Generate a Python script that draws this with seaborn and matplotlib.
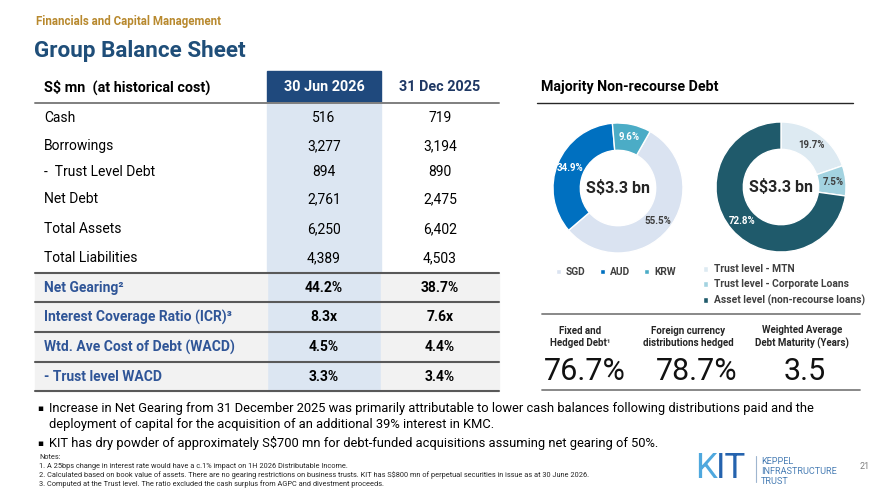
import matplotlib
matplotlib.use("Agg")
import matplotlib.pyplot as plt
from matplotlib.patches import Rectangle
import seaborn as sns

# ---------------- data ----------------
section_label = "Financials and Capital Management"
title = "Group Balance Sheet"
table_header = ["S$ mn  (at historical cost)", "30 Jun 2026", "31 Dec 2025"]
row_labels = ["Cash", "Borrowings", "-  Trust Level Debt", "Net Debt", "Total Assets", "Total Liabilities"]
vals_2026 = ["516", "3,277", "894", "2,761", "6,250", "4,389"]
vals_2025 = ["719", "3,194", "890", "2,475", "6,402", "4,503"]
ratio_labels = ["Net Gearing\u00b2", "Interest Coverage Ratio (ICR)\u00b3",
                "Wtd. Ave Cost of Debt (WACD)", "- Trust level WACD"]
ratio_2026 = ["44.2%", "8.3x", "4.5%", "3.3%"]
ratio_2025 = ["38.7%", "7.6x", "4.4%", "3.4%"]

debt_title = "Majority Non-recourse Debt"
currency = ["SGD", "AUD", "KRW"]
currency_share = [55.5, 34.9, 9.6]
level = ["Trust level - MTN", "Trust level - Corporate Loans", "Asset level (non-recourse loans)"]
level_share = [19.7, 7.5, 72.8]
donut_total = "S$3.3 bn"

metric_labels = ["Fixed and\nHedged Debt\u00b9", "Foreign currency\ndistributions hedged",
                 "Weighted Average\nDebt Maturity (Years)"]
metric_values = ["76.7%", "78.7%", "3.5"]

bullets = [
    "Increase in Net Gearing from 31 December 2025 was primarily attributable to lower cash balances following distributions paid and the\n"
    "deployment of capital for the acquisition of an additional 39% interest in KMC.",
    "KIT has dry powder of approximately S$700 mn for debt-funded acquisitions assuming net gearing of 50%.",
]
notes = [
    "Notes:",
    "1. A 25bps change in interest rate would have a c.1% impact on 1H 2026 Distributable Income.",
    "2. Calculated based on book value of assets. There are no gearing restrictions on business trusts. KIT has S$800 mn of perpetual securities in issue as at 30 June 2026.",
    "3. Computed at the Trust level. The ratio excluded the cash surplus from AGPC and divestment proceeds.",
]
page_number = "21"

# ---------------- style ----------------
sns.set_theme(style="white")
plt.rcParams["font.family"] = ["Roboto", "DejaVu Sans"]

cur_colors = ["#DAE3F1", "#0070C0", "#4BACC6"]
lvl_colors = ["#DDEAF2", "#A3D3E0", "#1F5A6B"]
NAVY = "#1F497D"
BAND = "#DCE6F2"
GRAYROW = "#F2F2F2"
LBLUE = "#2F5597"

W, H = 878, 494
fig = plt.figure(figsize=(W / 100, H / 100), dpi=100)
bg = fig.add_axes([0, 0, 1, 1])
bg.set_xlim(0, W)
bg.set_ylim(H, 0)
bg.axis("off")


def T(x, y, s, size, weight="normal", color="black", ha="left", va="center", **kw):
    bg.text(x, y, s, fontsize=size, fontweight=weight, color=color, ha=ha, va=va, **kw)


# header texts
T(36, 21, section_label, 8.3, "bold", "#B8892E")
T(34, 51, title, 16.2, "bold", "#1F4E79")

# table
tx0, tx1 = 35, 499
c1l, c1r = 267, 381
c1, c2 = 324, 440
bg.add_patch(Rectangle((c1l, 71), c1r - c1l, 32, color=NAVY, zorder=1))
bg.add_patch(Rectangle((c1l, 103), c1r - c1l, 288, color=BAND, zorder=1))
T(44, 87, table_header[0], 10.4, "bold")
T(c1, 87, table_header[1], 10.4, "bold", "white", ha="center")
T(c2, 87, table_header[2], 10.4, "bold", "#1F3864", ha="center")
bg.plot([tx0, tx1], [103.5, 103.5], color="#7F7F7F", lw=1.4, zorder=3)

row_y = [118, 146, 172, 199, 229, 258]
for lab, a, b, y in zip(row_labels, vals_2026, vals_2025, row_y):
    T(44, y, lab, 10)
    T(c1, y, a, 10, ha="center")
    T(c2, y, b, 10, ha="center")

line_y = [273, 302, 332, 362, 391]
for i, (lab, a, b) in enumerate(zip(ratio_labels, ratio_2026, ratio_2025)):
    y0, y1 = line_y[i], line_y[i + 1]
    bg.add_patch(Rectangle((tx0, y0), c1l - tx0, y1 - y0, color=GRAYROW, zorder=1))
    bg.add_patch(Rectangle((c1r, y0), tx1 - c1r, y1 - y0, color=GRAYROW, zorder=1))
    ym = (y0 + y1) / 2
    T(44, ym, lab, 10, "bold", LBLUE)
    T(c1, ym, a, 10, "bold", ha="center")
    T(c2, ym, b, 10, "bold", ha="center")
for y in line_y:
    bg.plot([tx0, tx1], [y, y], color="#595959", lw=1.5, zorder=3)

# right panel
T(541, 87, debt_title, 10.2, "bold")
bg.plot([537, 853], [103.5, 103.5], color="#262626", lw=1.0)


def donut(cx, cy, R, vals, cols, start, txtcols):
    ax = fig.add_axes([(cx - R) / W, 1 - (cy + R) / H, 2 * R / W, 2 * R / H])
    wedges, _, autot = ax.pie(vals, colors=cols, startangle=start, counterclock=False,
                              radius=1, autopct="%.1f%%", pctdistance=0.8,
                              wedgeprops=dict(width=0.42, edgecolor="white", linewidth=1.0),
                              textprops=dict(fontsize=7, fontweight="bold"))
    for t, c in zip(autot, txtcols):
        t.set_color(c)
    ax.set_xlim(-1, 1)
    ax.set_ylim(-1, 1)
    ax.set_aspect("equal")
    ax.axis("off")
    ax.text(0, 0, donut_total, ha="center", va="center", fontsize=11.5, fontweight="bold")
    return wedges


w1 = donut(618, 188, 65, currency_share, cur_colors, 60.4, ["#404040", "white", "white"])
w2 = donut(781, 187, 65, level_share, lvl_colors, 90, ["#404040", "#404040", "white"])

bg.legend(w1, currency, ncol=3, loc="center", bbox_to_anchor=(616, 272),
          bbox_transform=bg.transData, frameon=False, handlelength=0.5, handleheight=0.5,
          handletextpad=0.5, columnspacing=1.4, prop=dict(size=7.3, weight="bold"),
          labelcolor="#404040")
fig.legend(w2, level, ncol=1, loc="upper left", bbox_to_anchor=(694 / W, 1 - 255 / H),
           frameon=False, handlelength=0.5, handleheight=0.5, handletextpad=0.5,
           labelspacing=0.5, prop=dict(size=7.4, weight="bold"), labelcolor="#404040")

bg.plot([542, 860], [314, 314], color="#7F7F7F", lw=1.3)
bg.plot([542, 860], [390, 390], color="#7F7F7F", lw=1.3)
mx = [580, 688, 802]
vx = [585, 697, 805]
for x, lab in zip(mx, metric_labels):
    T(x, 337, lab, 7, "bold", "#262626", ha="center", linespacing=1.35)
for x, v in zip(vx, metric_values):
    T(x, 371, v, 22, "normal", "#111111", ha="center")

# bullets
T(37, 408, "\u25aa", 6.5, color="black", family=["DejaVu Sans"])
T(49, 416, bullets[0], 9.3, va="center", linespacing=1.3)
T(37, 443, "\u25aa", 6.5, color="black", family=["DejaVu Sans"])
T(49, 443, bullets[1], 9.3)

# notes
for i, n in enumerate(notes):
    T(39, 457 + 9 * i, n, 5.35, color="#262626")

# logo
T(695, 468, "K", 25, "normal", "#4FA8DE")
T(716, 468, "IT", 25, "normal", "#2563AE")
bg.plot([756, 756], [456, 482], color="#9FB6CF", lw=0.8)
for i, s in enumerate(["KEPPEL", "INFRASTRUCTURE", "TRUST"]):
    T(761, 461 + 10 * i, s, 6.6, color="#4A7FB5")
T(860, 466, page_number, 6.5, color="#7F7F7F")

fig.savefig("out.png", dpi=100)
